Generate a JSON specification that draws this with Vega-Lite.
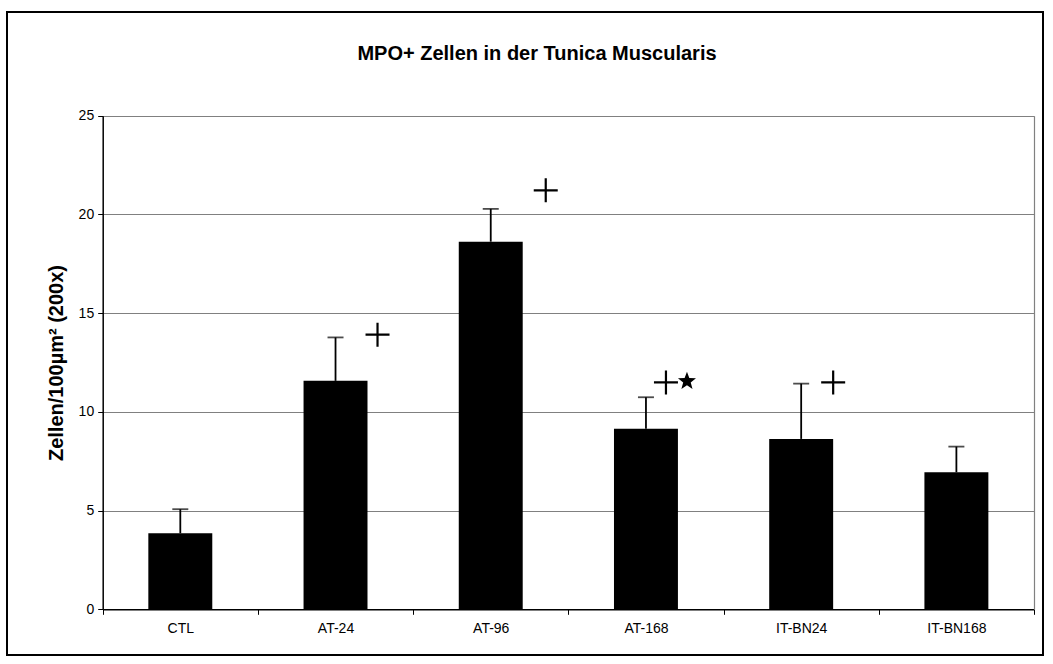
{
  "$schema": "https://vega.github.io/schema/vega-lite/v6.json",
  "width": 1036,
  "height": 643,
  "autosize": {"type": "none"},
  "padding": {"left": 7, "top": 12, "right": 10, "bottom": 9},
  "background": "#ffffff",
  "config": {
    "font": "Liberation Sans",
    "view": {"stroke": "#000000", "strokeWidth": 2},
    "axis": {"labelColor": "#000000", "titleColor": "#000000", "tickColor": "#000000", "domainColor": "#000000"}
  },
  "title": {
    "text": "MPO+ Zellen in der Tunica Muscularis",
    "fontSize": 20,
    "fontWeight": "bold",
    "color": "#000000",
    "anchor": "middle",
    "frame": "group",
    "offset": -52,
    "dx": 12
  },
  "datasets": {
    "bars": [
      {"group": "CTL", "mean": 3.85, "upper": 5.07},
      {"group": "AT-24", "mean": 11.57, "upper": 13.77},
      {"group": "AT-96", "mean": 18.62, "upper": 20.28},
      {"group": "AT-168", "mean": 9.15, "upper": 10.74},
      {"group": "IT-BN24", "mean": 8.63, "upper": 11.43},
      {"group": "IT-BN168", "mean": 6.94, "upper": 8.24}
    ],
    "annot": [
      {"group": "AT-24", "sign": "plus", "y": 13.91},
      {"group": "AT-96", "sign": "plus", "y": 21.22},
      {"group": "AT-168", "sign": "plus", "y": 11.49},
      {"group": "AT-168", "sign": "star", "y": 11.55},
      {"group": "IT-BN24", "sign": "plus", "y": 11.49}
    ]
  },
  "resolve": {"axis": {"y": "independent", "x": "independent"}},
  "layer": [
    {
      "data": {"name": "bars"},
      "mark": {"type": "bar", "color": "#000000", "width": {"band": 0.412}},
      "encoding": {
        "x": {
          "field": "group",
          "type": "nominal",
          "sort": ["CTL", "AT-24", "AT-96", "AT-168", "IT-BN24", "IT-BN168"],
          "scale": {"range": [95.7, 1027], "paddingInner": 0, "paddingOuter": 0},
          "axis": {
            "title": null,
            "labelAngle": 0,
            "tickBand": "extent",
            "offset": -45.7,
            "labelFontSize": 14,
            "labelPadding": 7,
            "tickSize": 5,
            "tickWidth": 1,
            "domainWidth": 1.5,
            "grid": false
          }
        },
        "y": {
          "field": "mean",
          "type": "quantitative",
          "scale": {"domain": [0, 25], "range": [597.3, 103.7], "nice": false, "zero": true},
          "axis": {
            "title": "Zellen/100µm² (200x)",
            "titleFontSize": 20,
            "titleFontWeight": "bold",
            "titlePadding": 12,
            "offset": -95.7,
            "values": [0, 5, 10, 15, 20, 25],
            "grid": true,
            "gridColor": "#808080",
            "gridWidth": 1.2,
            "labelFontSize": 14,
            "labelPadding": 4,
            "tickSize": 5,
            "tickWidth": 1,
            "domainWidth": 1.5
          }
        }
      }
    },
    {
      "data": {"name": "bars"},
      "mark": {"type": "rule", "color": "#000000", "strokeWidth": 1.8},
      "encoding": {
        "x": {"field": "group", "type": "nominal", "sort": ["CTL", "AT-24", "AT-96", "AT-168", "IT-BN24", "IT-BN168"], "axis": null},
        "y": {
          "field": "mean",
          "type": "quantitative",
          "axis": {"orient": "right", "offset": -9, "labels": false, "ticks": false, "grid": false, "title": null, "domainColor": "#808080", "domainWidth": 1.2}
        },
        "y2": {"field": "upper"}
      }
    },
    {
      "data": {"name": "bars"},
      "mark": {"type": "tick", "color": "#000000", "orient": "horizontal", "size": 16, "thickness": 1.8},
      "encoding": {
        "x": {"field": "group", "type": "nominal", "sort": ["CTL", "AT-24", "AT-96", "AT-168", "IT-BN24", "IT-BN168"], "axis": null},
        "y": {"field": "upper", "type": "quantitative", "axis": null}
      }
    },
    {
      "data": {"name": "annot"},
      "transform": [{"filter": "datum.group == 'AT-24' && datum.sign == 'plus'"}],
      "mark": {"type": "point", "shape": "M-1,0H1M0,-1V1", "size": 576, "filled": false, "stroke": "#000000", "strokeWidth": 2.2, "opacity": 1, "xOffset": 42},
      "encoding": {
        "x": {"field": "group", "type": "nominal", "sort": ["CTL", "AT-24", "AT-96", "AT-168", "IT-BN24", "IT-BN168"], "axis": null},
        "y": {"field": "y", "type": "quantitative", "axis": null}
      }
    },
    {
      "data": {"name": "annot"},
      "transform": [{"filter": "datum.group == 'AT-96' && datum.sign == 'plus'"}],
      "mark": {"type": "point", "shape": "M-1,0H1M0,-1V1", "size": 576, "filled": false, "stroke": "#000000", "strokeWidth": 2.2, "opacity": 1, "xOffset": 55},
      "encoding": {
        "x": {"field": "group", "type": "nominal", "sort": ["CTL", "AT-24", "AT-96", "AT-168", "IT-BN24", "IT-BN168"], "axis": null},
        "y": {"field": "y", "type": "quantitative", "axis": null}
      }
    },
    {
      "data": {"name": "annot"},
      "transform": [{"filter": "datum.group == 'AT-168' && datum.sign == 'plus'"}],
      "mark": {"type": "point", "shape": "M-1,0H1M0,-1V1", "size": 576, "filled": false, "stroke": "#000000", "strokeWidth": 2.2, "opacity": 1, "xOffset": 20},
      "encoding": {
        "x": {"field": "group", "type": "nominal", "sort": ["CTL", "AT-24", "AT-96", "AT-168", "IT-BN24", "IT-BN168"], "axis": null},
        "y": {"field": "y", "type": "quantitative", "axis": null}
      }
    },
    {
      "data": {"name": "annot"},
      "transform": [{"filter": "datum.group == 'AT-168' && datum.sign == 'star'"}],
      "mark": {"type": "point", "shape": "M0,-1L0.247,-0.34L0.951,-0.309L0.399,0.13L0.588,0.809L0,0.42L-0.588,0.809L-0.399,0.13L-0.951,-0.309L-0.247,-0.34Z", "size": 358, "filled": true, "color": "#000000", "strokeWidth": 0, "opacity": 1, "xOffset": 41},
      "encoding": {
        "x": {"field": "group", "type": "nominal", "sort": ["CTL", "AT-24", "AT-96", "AT-168", "IT-BN24", "IT-BN168"], "axis": null},
        "y": {"field": "y", "type": "quantitative", "axis": null}
      }
    },
    {
      "data": {"name": "annot"},
      "transform": [{"filter": "datum.group == 'IT-BN24' && datum.sign == 'plus'"}],
      "mark": {"type": "point", "shape": "M-1,0H1M0,-1V1", "size": 576, "filled": false, "stroke": "#000000", "strokeWidth": 2.2, "opacity": 1, "xOffset": 32},
      "encoding": {
        "x": {"field": "group", "type": "nominal", "sort": ["CTL", "AT-24", "AT-96", "AT-168", "IT-BN24", "IT-BN168"], "axis": null},
        "y": {"field": "y", "type": "quantitative", "axis": null}
      }
    }
  ]
}
